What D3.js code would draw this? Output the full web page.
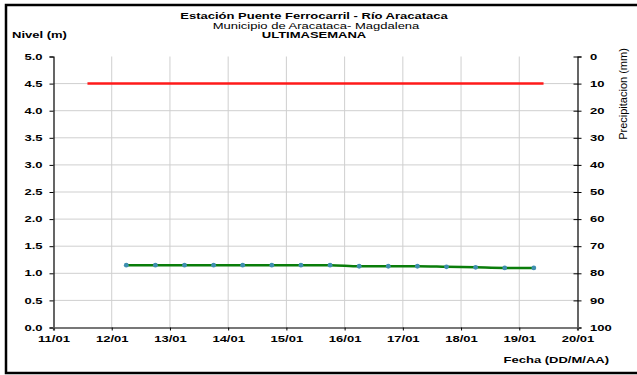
<!DOCTYPE html>
<html>
<head>
<meta charset="utf-8">
<script src="https://cdn.jsdelivr.net/npm/d3@7"></script>
<style>
  body { margin: 0; background: #fff; }
  svg { display: block; font-family: "Liberation Sans", Arial, sans-serif; }
</style>
</head>
<body>
<div id="graph"></div>
<script>
// level readings every 12 hours (day of January, fractional)
var levelDays = [12.25, 12.75, 13.25, 13.75, 14.25, 14.75, 15.25, 15.75,
                 16.25, 16.75, 17.25, 17.75, 18.25, 18.75, 19.25];
var levelValues = [1.15, 1.15, 1.15, 1.15, 1.15, 1.15, 1.15, 1.15,
                   1.13, 1.13, 1.13, 1.12, 1.11, 1.10, 1.10];
// alert line
var alertDays = [11.58, 19.43];
var alertValues = [4.5, 4.5];

var xTickDays = [11, 12, 13, 14, 15, 16, 17, 18, 19, 20];
var leftTicks = [0, 0.5, 1, 1.5, 2, 2.5, 3, 3.5, 4, 4.5, 5];
var rightTicks = [0, 10, 20, 30, 40, 50, 60, 70, 80, 90, 100];

var titleLines = ["Estación Puente Ferrocarril - Río Aracataca",
                  "Municipio de Aracataca- Magdalena",
                  "ULTIMASEMANA"];

var W = 637, H = 375;
var margin = { top: 56.5, right: 59.5, bottom: 47.5, left: 53.5 };
var width = W - margin.left - margin.right,
    height = H - margin.top - margin.bottom;
// the original picture is stretched sideways, so text is too
var SX = 1.55;

function dayDate(d) {
  return new Date(2020, 0, Math.floor(d), Math.round((d % 1) * 24));
}

// widen text horizontally keeping its anchor point
function stretchText(sel) {
  sel.each(function() {
    var t = d3.select(this);
    var tx = +t.attr("x") || 0;
    t.attr("x", tx / SX).attr("transform", "scale(" + SX + ",1)");
  });
}

function addLabel(x0, y0, txt, size, weight, anchor) {
  return svg.append("text")
    .attr("transform", "translate(" + x0 + "," + y0 + ") scale(" + SX + ",1)")
    .attr("text-anchor", anchor || "start")
    .attr("font-size", size + "px")
    .attr("font-weight", weight)
    .text(txt);
}

var svg = d3.select("#graph").append("svg")
  .attr("width", W).attr("height", H);

// outer frame
svg.append("rect")
  .attr("x", 6).attr("y", 5)
  .attr("width", 640).attr("height", 368)
  .attr("fill", "none").attr("stroke", "#000").attr("stroke-width", 2.5);

var g = svg.append("g")
  .attr("transform", "translate(" + margin.left + "," + margin.top + ")");

var x = d3.scaleTime()
  .domain([dayDate(11), dayDate(20)])
  .range([0, width]);
var y = d3.scaleLinear().domain([0, 5]).range([height, 0]);
var yRight = d3.scaleLinear().domain([100, 0]).range([height, 0]);

// grid
g.append("g").selectAll("line")
  .data(leftTicks.filter(function(d) { return d > 0 && d < 5; }))
  .enter().append("line")
  .attr("x1", 0).attr("x2", width)
  .attr("y1", function(d) { return y(d); })
  .attr("y2", function(d) { return y(d); })
  .attr("stroke", "#cfcfcf").attr("stroke-width", 1);
g.append("g").selectAll("line")
  .data(xTickDays.filter(function(d) { return d > 11 && d < 20; }))
  .enter().append("line")
  .attr("x1", function(d) { return x(dayDate(d)); })
  .attr("x2", function(d) { return x(dayDate(d)); })
  .attr("y1", 0).attr("y2", height)
  .attr("stroke", "#cfcfcf").attr("stroke-width", 1);

// left axis
var yAxis = g.append("g")
  .call(d3.axisLeft(y).tickValues(leftTicks).tickFormat(d3.format(".1f")).tickSize(4).tickPadding(7));
// right axis
var yAxisR = g.append("g")
  .attr("transform", "translate(" + width + ",0)")
  .call(d3.axisRight(yRight).tickValues(rightTicks).tickSize(4).tickPadding(8.5));
yAxisR.selectAll(".tick line").attr("x1", -4);
// bottom axis
var xAxis = g.append("g")
  .attr("transform", "translate(0," + height + ")")
  .call(d3.axisBottom(x)
    .tickValues(xTickDays.map(dayDate))
    .tickFormat(d3.timeFormat("%d/%m"))
    .tickSize(3).tickPadding(5));

[yAxis, yAxisR, xAxis].forEach(function(a) {
  a.attr("font-family", "'Liberation Sans', Arial, sans-serif");
  a.select(".domain").attr("stroke", "#000").attr("stroke-width", 1.2);
  a.selectAll(".tick line").attr("stroke", "#000");
  a.selectAll("text")
    .attr("fill", "#000")
    .attr("font-size", "8.4px")
    .attr("font-weight", "bold")
    .call(stretchText);
});
xAxis.select(".domain").attr("stroke", "#777").attr("stroke-width", 2.2);
xAxis.selectAll("text").attr("dy", "0.75em");

// alert line
var line = d3.line()
  .x(function(d) { return x(dayDate(d[0])); })
  .y(function(d) { return y(d[1]); });
g.append("path")
  .datum(d3.zip(alertDays, alertValues))
  .attr("fill", "none").attr("stroke", "#ff1a1a").attr("stroke-width", 2.5)
  .attr("d", line);

// level series
var levelData = d3.zip(levelDays, levelValues);
g.append("path")
  .datum(levelData)
  .attr("fill", "none").attr("stroke", "#0a7d0a").attr("stroke-width", 2.5)
  .attr("d", line.curve(d3.curveMonotoneX));
g.append("g").selectAll("circle")
  .data(levelData)
  .enter().append("circle")
  .attr("cx", function(d) { return x(dayDate(d[0])); })
  .attr("cy", function(d) { return y(d[1]); })
  .attr("r", 2.4)
  .attr("fill", "#3f8fb0");

// titles
addLabel(314, 18.5, titleLines[0], 8.4, "bold", "middle");
addLabel(316, 29.3, titleLines[1], 8.4, "normal", "middle");
addLabel(314, 37.8, titleLines[2], 8.4, "bold", "middle");

addLabel(12, 38, "Nivel (m)", 8.4, "bold");
addLabel(609, 362.5, "Fecha (DD/M/AA)", 8.4, "bold", "end");

svg.append("text")
  .attr("transform", "translate(626.5,94) rotate(-90)")
  .attr("text-anchor", "middle")
  .attr("font-size", "11px")
  .text("Precipitacion (mm)");
</script>
</body>
</html>
